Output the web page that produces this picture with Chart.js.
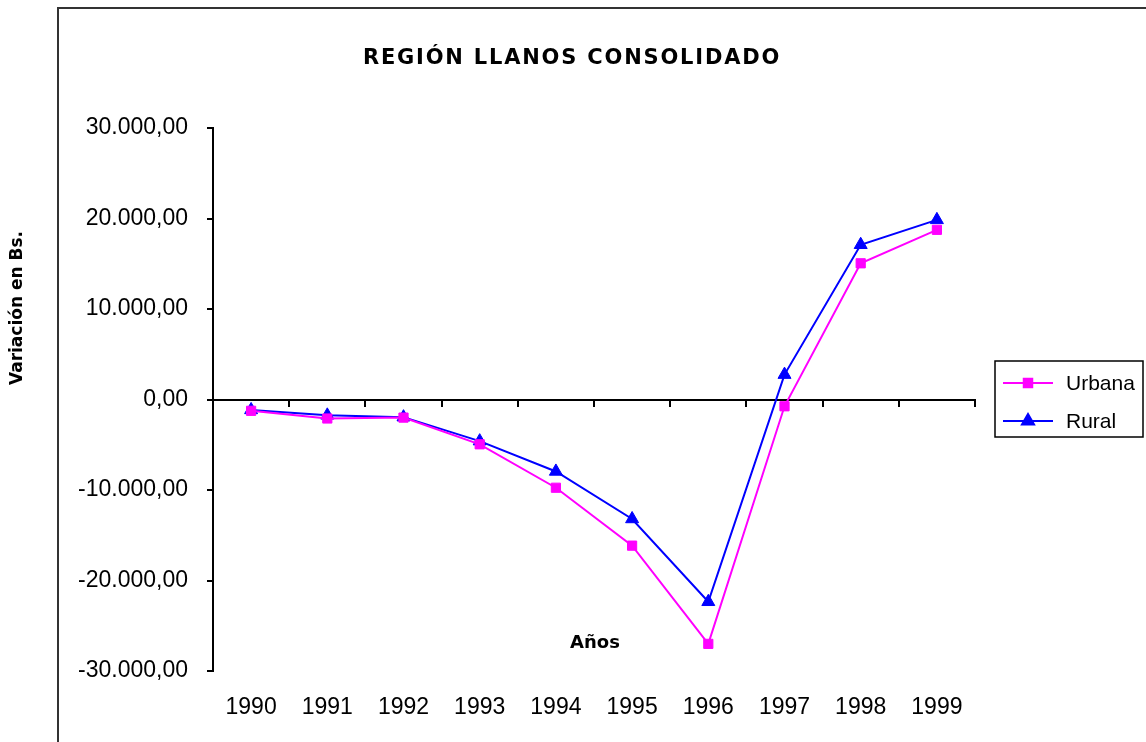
<!DOCTYPE html>
<html>
<head>
<meta charset="utf-8">
<script src="https://cdn.jsdelivr.net/npm/chart.js@4"></script>
<style>
  html, body { margin: 0; padding: 0; background: #fff; }
</style>
</head>
<body>
<canvas id="myChart" width="1146" height="742"></canvas>
<script>
const years = ['1990', '1991', '1992', '1993', '1994', '1995', '1996', '1997', '1998', '1999'];
const urbana = [-1250, -2100, -2000, -4950, -9750, -16150, -27000, -750, 15050, 18750];
const rural = [-1150, -1750, -1950, -4600, -7950, -13200, -22350, 2750, 17100, 19850];
const yTickValues = [-30000, -20000, -10000, 0, 10000, 20000, 30000];
const yTickLabels = ['-30.000,00', '-20.000,00', '-10.000,00', '0,00', '10.000,00', '20.000,00', '30.000,00'];

const tickFont = { family: 'Liberation Sans', size: 23 };

// frame, title, axis names and the boxed legend
const decor = {
  id: 'decor',
  beforeDraw(chart) {
    const c = chart.ctx;
    c.save();
    c.fillStyle = '#fff';
    c.fillRect(0, 0, chart.width, chart.height);
    c.restore();
  },
  afterDraw(chart) {
    const c = chart.ctx;
    c.save();
    c.strokeStyle = '#333';
    c.lineWidth = 2;
    c.beginPath();
    c.moveTo(58, 800);
    c.lineTo(58, 8);
    c.lineTo(1200, 8);
    c.stroke();

    c.fillStyle = '#000';
    c.textAlign = 'center';
    c.textBaseline = 'alphabetic';
    c.font = 'bold 21px "DejaVu Sans"';
    c.letterSpacing = '1.8px';
    c.fillText('REGIÓN LLANOS CONSOLIDADO', 572, 64);
    c.letterSpacing = '0px';

    c.font = 'bold 18px "DejaVu Sans"';
    c.textBaseline = 'middle';
    c.fillText('Años', 595, 643);

    c.save();
    c.translate(18, 308);
    c.rotate(-Math.PI / 2);
    c.font = 'bold 17px "DejaVu Sans"';
    c.fillText('Variación en Bs.', 0, 0);
    c.restore();

    // legend
    c.strokeStyle = '#000';
    c.lineWidth = 1.5;
    c.strokeRect(995, 361, 148, 76);
    const rows = [383, 421];
    chart.data.datasets.forEach((ds, i) => {
      const y = rows[i];
      c.strokeStyle = ds.borderColor;
      c.lineWidth = 2;
      c.beginPath();
      c.moveTo(1003, y);
      c.lineTo(1053, y);
      c.stroke();
      c.fillStyle = ds.pointBackgroundColor;
      c.strokeStyle = ds.borderColor;
      Chart.helpers.drawPoint(c, {
        pointStyle: ds.pointStyle,
        radius: ds.pointRadius - 0.5,
        borderWidth: 1,
        rotation: 0
      }, 1028, y);
      c.fillStyle = '#000';
      c.textAlign = 'left';
      c.textBaseline = 'middle';
      c.font = '21px "Liberation Sans"';
      c.fillText(ds.label, 1066, y + 1);
    });
    c.restore();
  }
};

const ctx = document.getElementById('myChart');

new Chart(ctx, {
  type: 'line',
  data: {
    labels: years,
    datasets: [{
      label: 'Urbana',
      data: urbana,
      borderColor: '#ff00ff',
      backgroundColor: '#ff00ff',
      pointBackgroundColor: '#ff00ff',
      borderWidth: 2,
      pointStyle: 'rect',
      pointRadius: 6.5,
      pointBorderWidth: 1,
      tension: 0
    }, {
      label: 'Rural',
      data: rural,
      borderColor: '#0000ff',
      backgroundColor: '#0000ff',
      pointBackgroundColor: '#0000ff',
      borderWidth: 2,
      pointStyle: 'triangle',
      pointRadius: 7.5,
      pointBorderWidth: 1,
      tension: 0
    }]
  },
  options: {
    responsive: false,
    animation: false,
    devicePixelRatio: 1,
    layout: { padding: { top: 128, right: 171, bottom: 0, left: 0 } },
    plugins: {
      legend: { display: false },
      title: { display: false },
      tooltip: { enabled: false }
    },
    scales: {
      x: {
        type: 'category',
        position: 'bottom',
        offset: true,
        grid: { display: false, drawTicks: false },
        border: { display: false },
        ticks: { color: '#000', font: tickFont, padding: 23, maxRotation: 0, autoSkip: false },
        afterFit(s) { s.height = 71; }
      },
      x0: {
        type: 'category',
        position: { y: 0 },
        offset: true,
        grid: { offset: true, drawOnChartArea: false, drawTicks: true, tickLength: 6, color: '#000', lineWidth: 2 },
        border: { color: '#000', width: 2 },
        ticks: { display: false }
      },
      y: {
        min: -30000,
        max: 30000,
        afterBuildTicks(s) { s.ticks = yTickValues.map(v => ({ value: v })); },
        ticks: {
          color: '#000',
          font: tickFont,
          padding: 19,
          callback: (v) => yTickLabels[yTickValues.indexOf(v)]
        },
        grid: { drawOnChartArea: false, tickLength: 6, color: '#000', lineWidth: 2 },
        border: { color: '#000', width: 2 },
        afterFit(s) { s.width = 213; }
      }
    }
  },
  plugins: [decor]
});
</script>
</body>
</html>
